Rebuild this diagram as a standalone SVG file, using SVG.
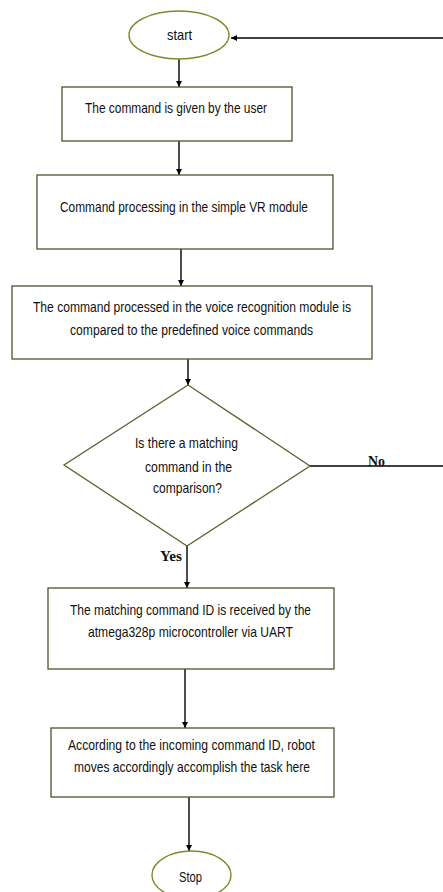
<svg xmlns="http://www.w3.org/2000/svg" width="443" height="892" viewBox="0 0 443 892">
<defs>
<marker id="ah" viewBox="0 0 10 10" refX="10" refY="5" markerWidth="6" markerHeight="7" markerUnits="userSpaceOnUse" orient="auto">
<path d="M0,0 L10,5 L0,10 z" fill="#000"/>
</marker>
<style>
.box{fill:#fff;stroke:#4a5530;stroke-width:1.3}
.term{fill:#fff;stroke:#7a8c2c;stroke-width:1.4}
.dec{fill:#fff;stroke:#55652e;stroke-width:1.3}
.t{font-family:"Liberation Sans Narrow","Liberation Sans",Arial,sans-serif;font-size:15px;fill:#111}
.lbl{font-family:"Liberation Serif","Times New Roman",serif;font-size:14px;font-weight:bold;fill:#111}
.c{fill:none;stroke:#000;stroke-width:1.4;marker-end:url(#ah)}
</style>
</defs>
<rect width="443" height="892" fill="#fff"/>
<g id="connectors">
<path class="c" d="M179 59 V87"/>
<path class="c" d="M179 141 V175"/>
<path class="c" d="M181 249 V286"/>
<path class="c" d="M188 359 V385"/>
<path class="c" d="M187 546 V588"/>
<path class="c" d="M185 669 V728"/>
<path class="c" d="M189 797 V851"/>
<path class="c" d="M310 466 H446 V38 H231"/>
</g>
<g id="start">
<ellipse class="term" cx="179" cy="35" rx="50" ry="24"/>
<text class="t" x="179.5" y="40" text-anchor="middle" textLength="25" lengthAdjust="spacingAndGlyphs">start</text>
</g>
<g id="box1">
<rect class="box" x="62" y="87" width="230" height="54"/>
<text class="t" x="176" y="113" text-anchor="middle" textLength="182" lengthAdjust="spacingAndGlyphs">The command is given by the user</text>
</g>
<g id="box2">
<rect class="box" x="37" y="175" width="296" height="74"/>
<text class="t" x="184" y="212" text-anchor="middle" textLength="248" lengthAdjust="spacingAndGlyphs">Command processing in the simple VR module</text>
</g>
<g id="box3">
<rect class="box" x="12" y="286" width="360" height="73"/>
<text class="t" x="192" y="312" text-anchor="middle" textLength="318" lengthAdjust="spacingAndGlyphs">The command processed in the voice recognition module is</text>
<text class="t" x="191.5" y="335" text-anchor="middle" textLength="243" lengthAdjust="spacingAndGlyphs">compared to the predefined voice commands</text>
</g>
<g id="decision">
<polygon class="dec" points="188,385 310,466 187,546 64,465"/>
<text class="t" x="186.5" y="448" text-anchor="middle" textLength="103" lengthAdjust="spacingAndGlyphs">Is there a matching</text>
<text class="t" x="188.5" y="472" text-anchor="middle" textLength="87" lengthAdjust="spacingAndGlyphs">command in the</text>
<text class="t" x="187.5" y="493" text-anchor="middle" textLength="69" lengthAdjust="spacingAndGlyphs">comparison?</text>
</g>
<g id="labels">
<text class="lbl" x="376.5" y="466" text-anchor="middle" textLength="17" lengthAdjust="spacingAndGlyphs">No</text>
<text class="lbl" x="171" y="561" text-anchor="middle" textLength="22" lengthAdjust="spacingAndGlyphs">Yes</text>
</g>
<g id="box4">
<rect class="box" x="48" y="588" width="286" height="81"/>
<text class="t" x="190.5" y="615" text-anchor="middle" textLength="241" lengthAdjust="spacingAndGlyphs">The matching command ID is received by the</text>
<text class="t" x="190.5" y="637" text-anchor="middle" textLength="205" lengthAdjust="spacingAndGlyphs">atmega328p microcontroller via UART</text>
</g>
<g id="box5">
<rect class="box" x="51" y="728" width="283" height="69"/>
<text class="t" x="191.5" y="750" text-anchor="middle" textLength="247" lengthAdjust="spacingAndGlyphs">According to the incoming command ID, robot</text>
<text class="t" x="192" y="772" text-anchor="middle" textLength="236" lengthAdjust="spacingAndGlyphs">moves accordingly accomplish the task here</text>
</g>
<g id="stop">
<ellipse class="term" cx="191.5" cy="875" rx="39.5" ry="24"/>
<text class="t" x="190.5" y="882" text-anchor="middle" textLength="23" lengthAdjust="spacingAndGlyphs">Stop</text>
</g>
</svg>
